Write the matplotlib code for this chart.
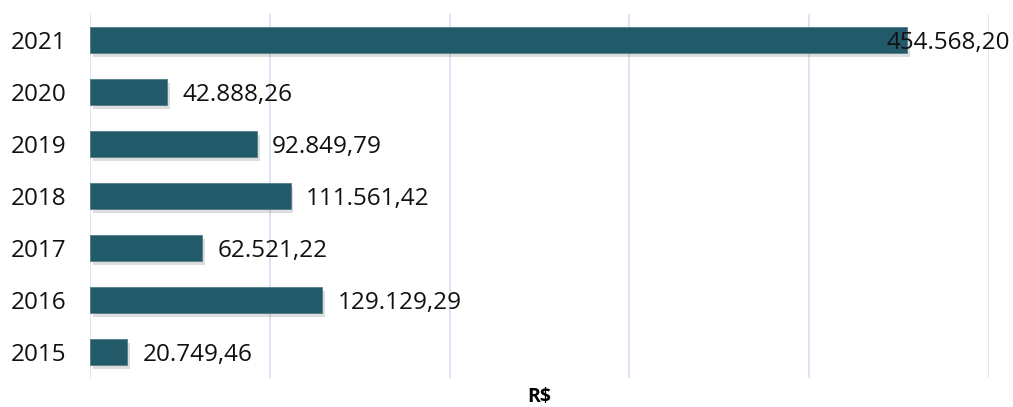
import matplotlib

matplotlib.use("Agg")

import matplotlib.pyplot as plt  # noqa: E402
import matplotlib.patheffects as pe  # noqa: E402

years = ["2015", "2016", "2017", "2018", "2019", "2020", "2021"]
values = [20749.46, 129129.29, 62521.22, 111561.42, 92849.79, 42888.26, 454568.20]
value_labels = ["20.749,46", "129.129,29", "62.521,22", "111.561,42",
                "92.849,79", "42.888,26", "454.568,20"]
x_ticks = [0, 100000, 200000, 300000, 400000, 500000]

BAR_COLOR = "#235a69"
GRID_COLOR = "#d6e0ef"
FONT = ["Open Sans", "DejaVu Sans"]
FS = 17.5

plt.rcParams["font.family"] = FONT

fig = plt.figure(figsize=(10.13, 4.07), dpi=100)
ax = fig.add_axes([90 / 1013, 1 - 378 / 407, 899 / 1013, 364 / 407])

pos = list(range(len(years)))
bars = ax.barh(pos, values, height=0.5, color=BAR_COLOR,
               edgecolor="#4f7f8c", linewidth=0.6, zorder=3)
for b in bars:
    b.set_path_effects([pe.SimplePatchShadow(offset=(2, -3), alpha=0.2,
                                             shadow_rgbFace="#555555"),
                        pe.Normal()])

ax.set_xlim(0, 500000)
ax.set_ylim(-0.5, len(years) - 0.5)
ax.set_xticks(x_ticks)
ax.set_xticklabels([])
ax.tick_params(axis="both", length=0)
ax.set_yticks(pos)
ax.set_yticklabels(years, fontsize=FS, color="#111111", va="center_baseline")
ax.tick_params(axis="y", pad=17)
ax.grid(axis="x", color=GRID_COLOR, linewidth=1.2, zorder=0)
for s in ax.spines.values():
    s.set_visible(False)

vmax = max(values)
for p, v, lab in zip(pos, values, value_labels):
    if v == vmax:
        ax.annotate(lab, xy=(1, p), xycoords=("axes fraction", "data"),
                    xytext=(15, 0), textcoords="offset points",
                    ha="right", va="center_baseline", fontsize=FS,
                    color="#111111", zorder=5)
    else:
        ax.annotate(lab, xy=(v, p), xytext=(11, 0), textcoords="offset points",
                    ha="left", va="center_baseline", fontsize=FS,
                    color="#111111", zorder=5)

ax.set_xlabel("R$", fontsize=14, fontweight="bold", labelpad=3)

fig.savefig("out.png", dpi=100)
